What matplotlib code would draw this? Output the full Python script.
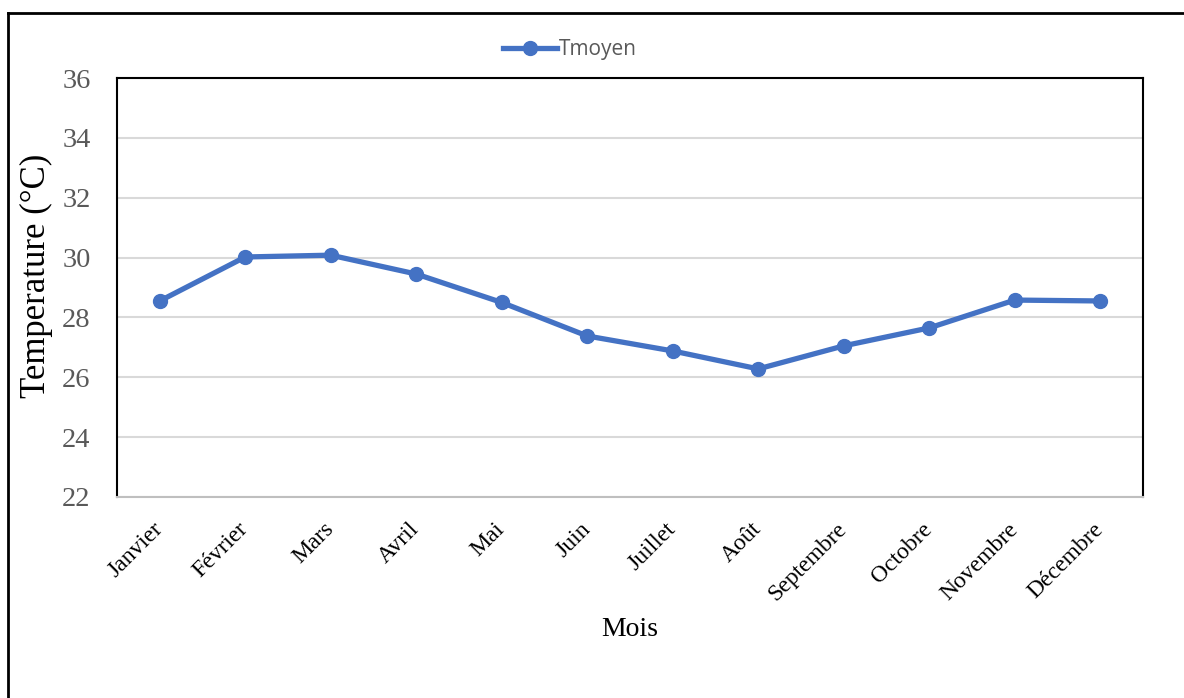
import matplotlib
matplotlib.use("Agg")
import matplotlib.pyplot as plt
from matplotlib.lines import Line2D

months = ["Janvier", "Février", "Mars", "Avril", "Mai", "Juin", "Juillet",
          "Août", "Septembre", "Octobre", "Novembre", "Décembre"]
tmoyen = [28.55, 30.02, 30.08, 29.45, 28.50, 27.38, 26.88, 26.28,
          27.05, 27.65, 28.58, 28.55]
yticks = [22, 24, 26, 28, 30, 32, 34, 36]

W, H = 1184, 698
fig = plt.figure(figsize=(W / 100, H / 100), dpi=100)
ax = fig.add_axes([117 / W, 1 - 497 / H, (1143 - 117) / W, (497 - 78) / H])

blue = "#4472C4"
ax.plot(range(len(months)), tmoyen, color=blue, lw=3.8, marker="o",
        markersize=10, label="Tmoyen", solid_capstyle="round")

ax.set_xlim(-0.5, len(months) - 0.5)
ax.set_ylim(yticks[0], yticks[-1])
ax.set_yticks(yticks)
ax.set_xticks(range(len(months)))
ax.set_xticklabels(months, rotation=45, ha="right", va="center",
                   rotation_mode="anchor", fontsize=17, family="Liberation Serif",
                   color="black")
ax.tick_params(axis="x", length=0, pad=21)
ax.tick_params(axis="y", length=0, pad=19, labelsize=20.5, labelcolor="#595959")
for lab in ax.get_yticklabels():
    lab.set_family("Liberation Serif")

ax.grid(axis="y", color="#d9d9d9", lw=1.5)
ax.set_axisbelow(True)
for side in ("left", "top", "right"):
    ax.spines[side].set_color("black")
    ax.spines[side].set_linewidth(1.5)
ax.spines["bottom"].set_color("#bfbfbf")
ax.spines["bottom"].set_linewidth(1.5)

ax.set_ylabel("Temperature (°C)", fontsize=25, family="Liberation Serif")
ax.set_xlabel("Mois", fontsize=20, family="Liberation Serif")
ax.xaxis.set_label_coords(0.5, (497 - 617) / (497 - 78))
ax.yaxis.set_label_coords((53 - 117) / (1143 - 117), (497 - 276) / (497 - 78))

handle = Line2D([], [], color=blue, lw=3.8, marker="o", markersize=10)
fig.legend([handle], ["Tmoyen"], loc="center", bbox_to_anchor=(570 / W, 1 - 50 / H),
           frameon=False, prop={"family": "Open Sans", "size": 15},
           handlelength=2.6, handletextpad=0.1, labelcolor="#595959")

# outer frame (top and left edges)
fig.add_artist(Line2D([8 / W, 8 / W], [0, 1 - 13 / H], transform=fig.transFigure,
                      color="black", lw=2))
fig.add_artist(Line2D([8 / W, 1], [1 - 13 / H, 1 - 13 / H], transform=fig.transFigure,
                      color="black", lw=2))

fig.savefig("out.png", dpi=100, facecolor="white")
